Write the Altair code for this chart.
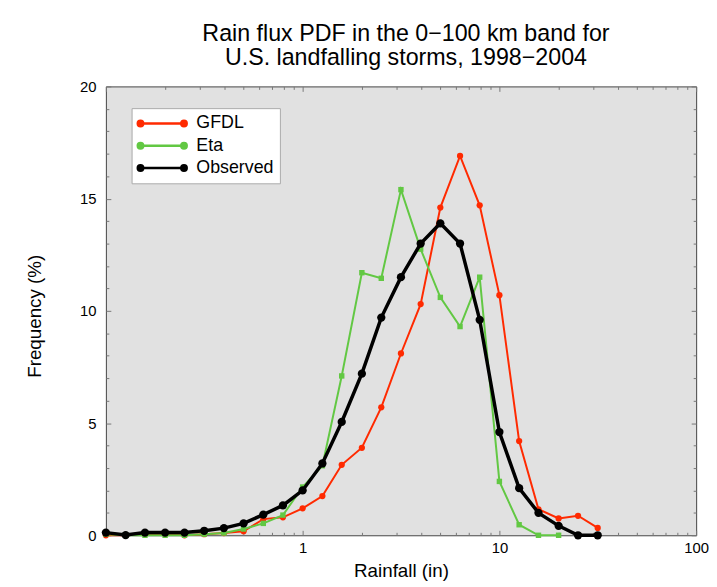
import altair as alt
import pandas as pd

# ---- data ----
rain = [0.1, 0.126, 0.158, 0.2, 0.251, 0.316, 0.398, 0.501, 0.631, 0.794,
        1.0, 1.26, 1.58, 2.0, 2.51, 3.16, 3.98, 5.01, 6.31, 7.94,
        10.0, 12.6, 15.8, 20.0, 25.1, 31.6]
gfdl = [0.0, 0.0, 0.05, 0.05, 0.0, 0.05, 0.1, 0.18, 0.72, 0.8,
        1.2, 1.75, 3.14, 3.9, 5.7, 8.1, 10.3, 14.6, 16.9, 14.7,
        10.7, 4.2, 1.16, 0.75, 0.87, 0.33]
eta = [0.05, 0.0, 0.0, 0.0, 0.0, 0.05, 0.1, 0.28, 0.53, 0.9,
       2.15, 3.1, 7.1, 11.7, 11.45, 15.4, 12.75, 10.6, 9.3, 11.5,
       2.4, 0.47, 0.0, 0.0]
observed = [0.12, 0.01, 0.12, 0.12, 0.12, 0.2, 0.32, 0.53, 0.92, 1.33,
            2.0, 3.2, 5.05, 7.2, 9.7, 11.5, 13.0, 13.9, 13.0, 9.6,
            4.6, 2.1, 1.0, 0.42, 0.0, 0.0]

series_names = ["GFDL", "Eta", "Observed"]
series_colors = ["#ff2a00", "#62c843", "#000000"]

x_labels = [1, 10, 100]
x_major = [0.1, 1, 10, 100]
x_minor = [0.2, 0.3, 0.4, 0.5, 0.6, 0.7, 0.8, 0.9,
           2, 3, 4, 5, 6, 7, 8, 9,
           20, 30, 40, 50, 60, 70, 80, 90]
y_major = [0, 5, 10, 15, 20]
y_minor = [1, 2, 3, 4, 6, 7, 8, 9, 11, 12, 13, 14, 16, 17, 18, 19]

title_lines = ["Rain flux PDF in the 0\u2212100 km band for",
               "U.S. landfalling storms, 1998\u22122004"]

rows = []
for name, vals in zip(series_names, [gfdl, eta, observed]):
    for r, v in zip(rain, vals):
        rows.append({"rain": r, "freq": v, "series": name})
df = pd.DataFrame(rows)

FONT = "Liberation Sans"
xscale = alt.Scale(type="log", domain=[0.1, 100], nice=False)
yscale = alt.Scale(domain=[0, 20], nice=False, zero=True)
cscale = alt.Scale(domain=series_names, range=series_colors)

# legend symbol: a short line with a dot at each end (unit = 8 px)
legend_path = ("M-2.75,0L2.75,0"
               "M-3.094,0a0.344,0.344 0 1,0 0.688,0a0.344,0.344 0 1,0 -0.688,0"
               "M-2.9,0a0.15,0.15 0 1,0 0.3,0a0.15,0.15 0 1,0 -0.3,0"
               "M2.406,0a0.344,0.344 0 1,0 0.688,0a0.344,0.344 0 1,0 -0.688,0"
               "M2.6,0a0.15,0.15 0 1,0 0.3,0a0.15,0.15 0 1,0 -0.3,0")

legend = alt.Legend(
    title=None, orient="none", legendX=26, legendY=22,
    fillColor="white", strokeColor="#aaaaaa", padding=6,
    symbolType=legend_path, symbolSize=256, symbolStrokeWidth=2.5,
    symbolOffset=15.5,
    labelFont=FONT, labelFontSize=18, labelColor="black",
    labelOffset=25, rowPadding=3.5,
)


def axis_layer(xaxis, yaxis):
    return alt.Chart(df).mark_point(opacity=0).encode(
        x=alt.X("rain:Q", scale=xscale, axis=xaxis),
        y=alt.Y("freq:Q", scale=yscale, axis=yaxis),
    )


tick_common = dict(labels=False, domain=False, grid=False, title=None,
                   tickColor="#777777", tickWidth=1)

label_layer = axis_layer(
    alt.Axis(orient="bottom", values=x_labels, format="d", ticks=False, tickSize=0,
             domain=False, grid=False, labelFont=FONT, labelFontSize=15,
             labelColor="black", labelPadding=5, labelFlush=False,
             title="Rainfall (in)", titleFont=FONT, titleFontSize=19,
             titleFontWeight="normal", titleColor="black",
             titleBaseline="alphabetic", titleY=42),
    alt.Axis(orient="left", values=y_major, ticks=False, tickSize=0,
             domain=False, grid=False, labelFont=FONT, labelFontSize=15,
             labelColor="black", labelPadding=10,
             title="Frequency (%)", titleFont=FONT, titleFontSize=19,
             titleFontWeight="normal", titleColor="black",
             titleBaseline="alphabetic", titleAngle=270, titleX=-66, titleY=232),
)
major_bl = axis_layer(
    alt.Axis(orient="bottom", values=x_major, tickSize=5, offset=-5, **tick_common),
    alt.Axis(orient="left", values=y_major, tickSize=5, offset=-5, **tick_common),
)
minor_bl = axis_layer(
    alt.Axis(orient="bottom", values=x_minor, tickSize=3, offset=-3, **tick_common),
    alt.Axis(orient="left", values=y_minor, tickSize=3, offset=-3, **tick_common),
)
major_tr = axis_layer(
    alt.Axis(orient="top", values=x_major, tickSize=5, offset=-5, **tick_common),
    alt.Axis(orient="right", values=y_major, tickSize=5, offset=-5, **tick_common),
)
minor_tr = axis_layer(
    alt.Axis(orient="top", values=x_minor, tickSize=3, offset=-3, **tick_common),
    alt.Axis(orient="right", values=y_minor, tickSize=3, offset=-3, **tick_common),
)

styles = {
    "GFDL": dict(width=2, shape="circle", size=40),
    "Eta": dict(width=2, shape="square", size=30),
    "Observed": dict(width=3.5, shape="circle", size=70),
}

data_layers = []
for i, name in enumerate(series_names):
    st = styles[name]
    sub = alt.Chart(df).transform_filter(alt.datum.series == name)
    line = sub.mark_line(strokeWidth=st["width"]).encode(
        x=alt.X("rain:Q", scale=xscale, axis=None),
        y=alt.Y("freq:Q", scale=yscale, axis=None),
        color=alt.Color("series:N", scale=cscale,
                        legend=legend if i == 0 else None),
    )
    pts = sub.mark_point(filled=True, opacity=1, shape=st["shape"],
                         size=st["size"]).encode(
        x=alt.X("rain:Q", scale=xscale, axis=None),
        y=alt.Y("freq:Q", scale=yscale, axis=None),
        color=alt.Color("series:N", scale=cscale, legend=None),
    )
    data_layers += [line, pts]

chart = alt.layer(
    label_layer, major_bl, minor_bl, major_tr, minor_tr, *data_layers
).resolve_axis(
    x="independent", y="independent"
).properties(
    width=597, height=454,
    autosize=alt.AutoSizeParams(type="none"),
    padding={"left": 99, "top": 76, "right": 13, "bottom": 49},
    background="white",
    title=alt.TitleParams(text=title_lines, font=FONT, fontSize=23.5,
                          fontWeight="normal", color="black",
                          anchor="middle", frame="group", offset=10,
                          lineHeight=24, dx=5),
).configure_view(
    fill="#e1e1e1", stroke="#444444", strokeWidth=1
)

chart.save("out.html", embed_options={"renderer": "svg", "actions": False})
